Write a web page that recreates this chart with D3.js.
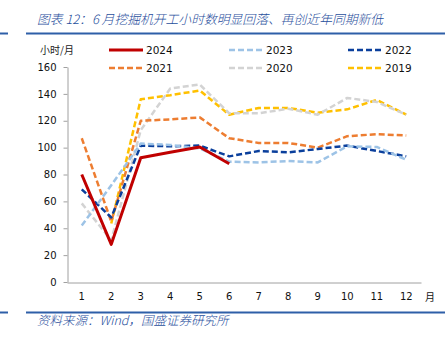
<!DOCTYPE html>
<html><head><meta charset="utf-8">
<script src="https://cdn.jsdelivr.net/npm/d3@7"></script>
<style>
html,body{margin:0;padding:0;background:#fff;}
svg{display:block;}
</style></head>
<body>
<svg id="chart" width="445" height="343"></svg>
<script>
const months = [1,2,3,4,5,6,7,8,9,10,11,12];
const yTicks = [0,20,40,60,80,100,120,140,160];
const seriesNames = ["2024","2023","2022","2021","2020","2019"];
const s2024 = [80,28,92.5,96.5,100.5,88,null,null,null,null,null,null];
const s2023 = [42,72,103,102,99.5,89.5,89,90,89,101,100.5,91];
const s2022 = [69,48,101.5,101,101.5,93.5,97.5,96.5,99,101.5,97.5,93.5];
const s2021 = [107,45,120,121,122.5,107,103.5,103.5,100,108.5,110,109];
const s2020 = [58.5,31,113,144,147,125.5,125.5,129,124.5,137,134,124.5];
const s2019 = [null,43.5,136,139,142.5,124.5,129.5,129.5,126,128.5,135.5,124.5];
const seriesData = [s2024,s2023,s2022,s2021,s2020,s2019];
const colors = ["#C00000","#9DC3E6","#0a3f9c","#ED7D31","#D3D3D3","#FFC000"];
const dashed = [false,true,true,true,true,true];

const svg = d3.select("#chart");
const x = d3.scaleBand().domain(months).range([67,421]).padding(0);
const y = d3.scaleLinear().domain([0,160]).range([282,67]);

// title
svg.append("text").attr("x",37).attr("y",24)
  .attr("font-family","'Noto Sans CJK SC', sans-serif").attr("font-size",12.8)
  .attr("font-weight",300)
  .attr("font-style","italic").attr("fill","#1f4e9c")
  .text("图表 12：6 月挖掘机开工小时数明显回落、再创近年同期新低");
// rules
const ruleColor = "#2e5fa8";
[[0,8],[26,445]].forEach(([a,b])=>{
  svg.append("line").attr("x1",a).attr("x2",b).attr("y1",33.5).attr("y2",33.5).attr("stroke",ruleColor).attr("stroke-width",2);
  svg.append("line").attr("x1",a).attr("x2",b).attr("y1",312.5).attr("y2",312.5).attr("stroke",ruleColor).attr("stroke-width",2);
});
svg.append("text").attr("x",37).attr("y",325)
  .attr("font-family","'Noto Sans CJK SC', sans-serif").attr("font-size",12.5)
  .attr("font-weight",300)
  .attr("font-style","italic").attr("fill","#1f4e9c")
  .text("资料来源：Wind，国盛证券研究所");

// unit label
svg.append("text").attr("x",40).attr("y",54)
  .attr("font-family","'Noto Sans CJK SC', sans-serif").attr("font-size",10).attr("fill","#222")
  .text("小时/月");

// y axis
const yAxis = svg.append("g").attr("transform","translate(67.5,0)")
  .call(d3.axisLeft(y).tickValues(yTicks).tickSize(4).tickSizeOuter(0).tickPadding(7));
yAxis.select(".domain").attr("stroke","#a0a0a0");
yAxis.selectAll(".tick line").attr("stroke","#a0a0a0");
yAxis.selectAll("text").attr("font-family","'DejaVu Sans', sans-serif").attr("font-size",10).attr("fill","#111");

// x axis
const xAxis = svg.append("g").attr("transform","translate(0,282.5)")
  .call(d3.axisBottom(x).tickSize(0).tickSizeOuter(0).tickPadding(10));
xAxis.select(".domain").attr("stroke","#a0a0a0");
xAxis.selectAll("text").attr("font-family","'DejaVu Sans', sans-serif").attr("font-size",10).attr("fill","#111");
svg.append("text").attr("x",425).attr("y",301)
  .attr("font-family","'Noto Sans CJK SC', sans-serif").attr("font-size",10).attr("fill","#111")
  .text("月");

// lines (draw in reverse so 2024 on top)
const line = d3.line()
  .defined(d=>d.v!==null)
  .x(d=>x(d.m)+x.bandwidth()/2)
  .y(d=>y(d.v));
for (let i=seriesNames.length-1;i>=0;i--){
  const pts = months.map((m,j)=>({m:m,v:seriesData[i][j]}));
  svg.append("path").datum(pts).attr("d",line)
    .attr("fill","none").attr("stroke",colors[i])
    .attr("stroke-width",dashed[i]?2.5:3)
    .attr("stroke-dasharray",dashed[i]?"6,3":null)
    .attr("stroke-linejoin","round");
}

// legend
const legendPos = [[109,50],[229,50],[348,50],[109,68],[229,68],[348,68]];
seriesNames.forEach((n,i)=>{
  const [lx,ly] = legendPos[i];
  svg.append("line").attr("x1",lx).attr("x2",lx+34).attr("y1",ly).attr("y2",ly)
    .attr("stroke",colors[i]).attr("stroke-width",dashed[i]?2.5:3)
    .attr("stroke-dasharray",dashed[i]?"6,3":null);
  svg.append("text").attr("x",lx+37).attr("y",ly+4)
    .attr("font-family","'DejaVu Sans', sans-serif").attr("font-size",10.5).attr("fill","#111")
    .text(n);
});
</script>
</body></html>
